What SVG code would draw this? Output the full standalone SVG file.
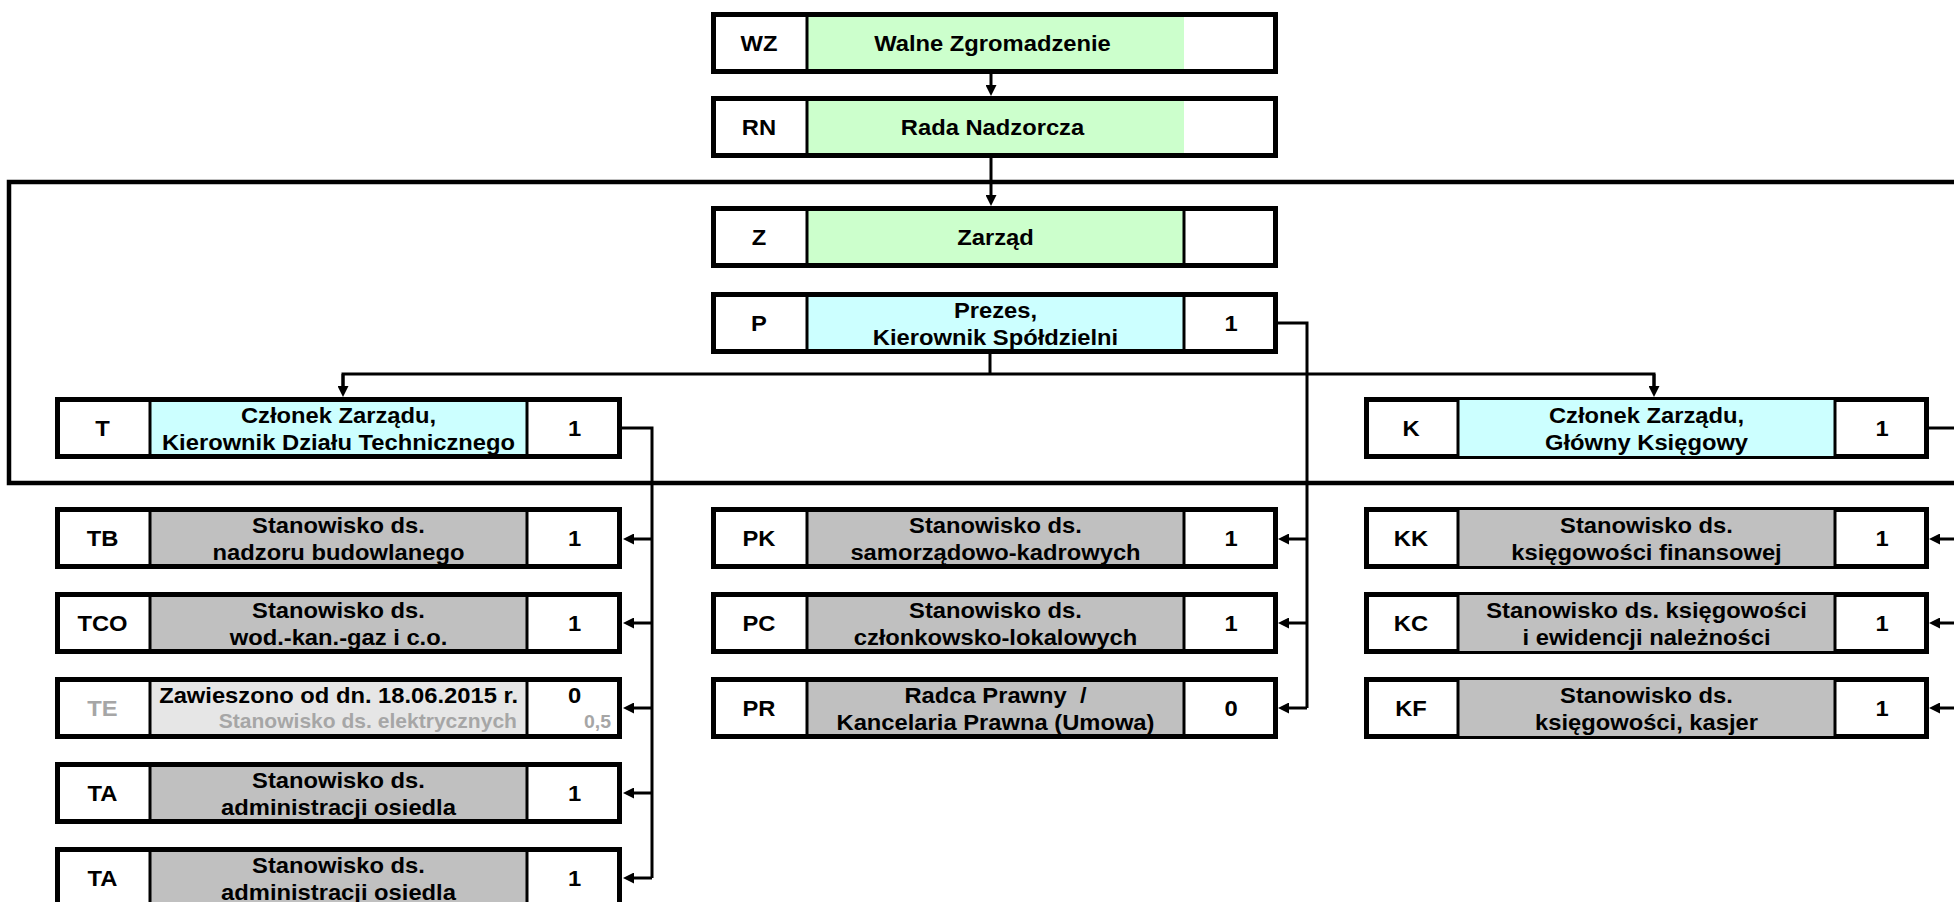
<svg xmlns="http://www.w3.org/2000/svg" width="1954" height="902" viewBox="0 0 1954 902">
<style>
.bx{fill:none;stroke:#000;stroke-width:5}
.dv{stroke:#000;stroke-width:3}
.gr{fill:#ccffcc}
.cy{fill:#ccffff}
.gy{fill:#c0c0c0}
.lg{fill:#e6e6e6}
.cn{fill:none;stroke:#000;stroke-width:3}
text{font-family:"Liberation Sans",Arial,sans-serif;font-weight:bold;font-size:22px;text-anchor:middle;fill:#000}
.fd{fill:#a6a6a6}
.sm{font-size:19.5px}
.xs{font-size:18px}
.ra{text-anchor:end}
</style>
<defs>
<marker id="ah" viewBox="0 0 11 11" refX="6" refY="5.5" markerWidth="11" markerHeight="11" markerUnits="userSpaceOnUse" orient="auto"><path d="M0,0 L11,5.5 L0,11 z" fill="#000"/></marker>
</defs>
<rect width="1954" height="902" fill="#fff"/>

<g id="frame"><rect x="9" y="182" width="2100" height="301" fill="none" stroke="#000" stroke-width="4.5"/></g>

<g id="connectors">
<path class="cn" d="M991,74 V91" marker-end="url(#ah)"/>
<path class="cn" d="M991,158 V201" marker-end="url(#ah)"/>
<path class="cn" d="M990,354 V374"/>
<path class="cn" d="M343,392 V374 H1654 V392"/>
<path class="cn" d="M343,374 V392" marker-end="url(#ah)"/>
<path class="cn" d="M1654,374 V392" marker-end="url(#ah)"/>
<path class="cn" d="M622,428 H652 V878"/>
<path class="cn" d="M652,539 H628" marker-end="url(#ah)"/>
<path class="cn" d="M652,623 H628" marker-end="url(#ah)"/>
<path class="cn" d="M652,708 H628" marker-end="url(#ah)"/>
<path class="cn" d="M652,793 H628" marker-end="url(#ah)"/>
<path class="cn" d="M652,878 H628" marker-end="url(#ah)"/>
<path class="cn" d="M1278,323 H1307 V708"/>
<path class="cn" d="M1307,539 H1283" marker-end="url(#ah)"/>
<path class="cn" d="M1307,623 H1283" marker-end="url(#ah)"/>
<path class="cn" d="M1307,708 H1283" marker-end="url(#ah)"/>
<path class="cn" d="M1929,428 H1960"/>
<path class="cn" d="M1960,539 H1934" marker-end="url(#ah)"/>
<path class="cn" d="M1960,623 H1934" marker-end="url(#ah)"/>
<path class="cn" d="M1960,708 H1934" marker-end="url(#ah)"/>
</g>

<g id="WZ">
<rect class="gr" x="807" y="12" width="377" height="62"/>
<line class="dv" x1="807" y1="12" x2="807" y2="74"/>
<rect class="bx" x="713.5" y="14.5" width="562" height="57"/>
<g transform="scale(1.08 1)"><text x="702.78" y="51">WZ</text><text x="918.98" y="51">Walne Zgromadzenie</text></g>
</g>

<g id="RN">
<rect class="gr" x="807" y="96" width="377" height="62"/>
<line class="dv" x1="807" y1="96" x2="807" y2="158"/>
<rect class="bx" x="713.5" y="98.5" width="562" height="57"/>
<g transform="scale(1.08 1)"><text x="702.78" y="135">RN</text><text x="918.98" y="135">Rada Nadzorcza</text></g>
</g>

<g id="Z">
<rect class="gr" x="807" y="206" width="377" height="62"/>
<line class="dv" x1="807" y1="206" x2="807" y2="268"/>
<line class="dv" x1="1184" y1="206" x2="1184" y2="268"/>
<rect class="bx" x="713.5" y="208.5" width="562" height="57"/>
<g transform="scale(1.08 1)"><text x="702.78" y="245">Z</text><text x="921.76" y="245">Zarząd</text></g>
</g>

<g id="P">
<rect class="cy" x="807" y="292" width="377" height="62"/>
<line class="dv" x1="807" y1="292" x2="807" y2="354"/>
<line class="dv" x1="1184" y1="292" x2="1184" y2="354"/>
<rect class="bx" x="713.5" y="294.5" width="562" height="57"/>
<g transform="scale(1.08 1)"><text x="702.78" y="331">P</text><text x="921.76" y="318">Prezes,</text><text x="921.76" y="345">Kierownik Spółdzielni</text><text x="1139.81" y="331">1</text></g>
</g>

<g id="T">
<rect class="cy" x="150" y="397" width="377" height="62"/>
<line class="dv" x1="150" y1="397" x2="150" y2="459"/>
<line class="dv" x1="527" y1="397" x2="527" y2="459"/>
<rect class="bx" x="57.5" y="399.5" width="562" height="57"/>
<g transform="scale(1.08 1)"><text x="94.91" y="436">T</text><text x="313.43" y="423">Członek Zarządu,</text><text x="313.43" y="450">Kierownik Działu Technicznego</text><text x="531.94" y="436">1</text></g>
</g>

<g id="K">
<rect class="bx" x="1366.5" y="399.5" width="560" height="57"/>
<rect class="cy" x="1458" y="400" width="377" height="56"/>
<line class="dv" x1="1458" y1="397" x2="1458" y2="459"/>
<line class="dv" x1="1835" y1="397" x2="1835" y2="459"/>
<g transform="scale(1.08 1)"><text x="1306.48" y="436">K</text><text x="1524.54" y="423">Członek Zarządu,</text><text x="1524.54" y="450">Główny Księgowy</text><text x="1742.59" y="436">1</text></g>
</g>

<g id="TB">
<rect class="gy" x="150" y="507" width="377" height="62"/>
<line class="dv" x1="150" y1="507" x2="150" y2="569"/>
<line class="dv" x1="527" y1="507" x2="527" y2="569"/>
<rect class="bx" x="57.5" y="509.5" width="562" height="57"/>
<g transform="scale(1.08 1)"><text x="94.91" y="546">TB</text><text x="313.43" y="533">Stanowisko ds.</text><text x="313.43" y="560">nadzoru budowlanego</text><text x="531.94" y="546">1</text></g>
</g>

<g id="TCO">
<rect class="gy" x="150" y="592" width="377" height="62"/>
<line class="dv" x1="150" y1="592" x2="150" y2="654"/>
<line class="dv" x1="527" y1="592" x2="527" y2="654"/>
<rect class="bx" x="57.5" y="594.5" width="562" height="57"/>
<g transform="scale(1.08 1)"><text x="94.91" y="631">TCO</text><text x="313.43" y="618">Stanowisko ds.</text><text x="313.43" y="645">wod.-kan.-gaz i c.o.</text><text x="531.94" y="631">1</text></g>
</g>

<g id="TE">
<rect class="lg" x="150" y="677" width="377" height="62"/>
<line class="dv" x1="150" y1="677" x2="150" y2="739"/>
<line class="dv" x1="527" y1="677" x2="527" y2="739"/>
<rect class="bx" x="57.5" y="679.5" width="562" height="57"/>
<g transform="scale(1.08 1)"><text class="fd" x="94.91" y="716">TE</text><text class="ra" x="479.63" y="703">Zawieszono od dn. 18.06.2015 r.</text><text class="ra fd sm" x="478.7" y="728">Stanowisko ds. elektrycznych</text><text x="531.94" y="703">0</text><text class="ra fd xs" x="565.74" y="728">0,5</text></g>
</g>

<g id="TA1">
<rect class="gy" x="150" y="762" width="377" height="62"/>
<line class="dv" x1="150" y1="762" x2="150" y2="824"/>
<line class="dv" x1="527" y1="762" x2="527" y2="824"/>
<rect class="bx" x="57.5" y="764.5" width="562" height="57"/>
<g transform="scale(1.08 1)"><text x="94.91" y="801">TA</text><text x="313.43" y="788">Stanowisko ds.</text><text x="313.43" y="815">administracji osiedla</text><text x="531.94" y="801">1</text></g>
</g>

<g id="TA2">
<rect class="gy" x="150" y="847" width="377" height="62"/>
<line class="dv" x1="150" y1="847" x2="150" y2="909"/>
<line class="dv" x1="527" y1="847" x2="527" y2="909"/>
<rect class="bx" x="57.5" y="849.5" width="562" height="57"/>
<g transform="scale(1.08 1)"><text x="94.91" y="886">TA</text><text x="313.43" y="873">Stanowisko ds.</text><text x="313.43" y="900">administracji osiedla</text><text x="531.94" y="886">1</text></g>
</g>

<g id="PK">
<rect class="gy" x="807" y="507" width="377" height="62"/>
<line class="dv" x1="807" y1="507" x2="807" y2="569"/>
<line class="dv" x1="1184" y1="507" x2="1184" y2="569"/>
<rect class="bx" x="713.5" y="509.5" width="562" height="57"/>
<g transform="scale(1.08 1)"><text x="702.78" y="546">PK</text><text x="921.76" y="533">Stanowisko ds.</text><text x="921.76" y="560">samorządowo-kadrowych</text><text x="1139.81" y="546">1</text></g>
</g>

<g id="PC">
<rect class="gy" x="807" y="592" width="377" height="62"/>
<line class="dv" x1="807" y1="592" x2="807" y2="654"/>
<line class="dv" x1="1184" y1="592" x2="1184" y2="654"/>
<rect class="bx" x="713.5" y="594.5" width="562" height="57"/>
<g transform="scale(1.08 1)"><text x="702.78" y="631">PC</text><text x="921.76" y="618">Stanowisko ds.</text><text x="921.76" y="645">członkowsko-lokalowych</text><text x="1139.81" y="631">1</text></g>
</g>

<g id="PR">
<rect class="gy" x="807" y="677" width="377" height="62"/>
<line class="dv" x1="807" y1="677" x2="807" y2="739"/>
<line class="dv" x1="1184" y1="677" x2="1184" y2="739"/>
<rect class="bx" x="713.5" y="679.5" width="562" height="57"/>
<g transform="scale(1.08 1)"><text x="702.78" y="716">PR</text><text x="921.76" y="703" xml:space="preserve">Radca Prawny  /</text><text x="921.76" y="730">Kancelaria Prawna (Umowa)</text><text x="1139.81" y="716">0</text></g>
</g>

<g id="KK">
<rect class="bx" x="1366.5" y="509.5" width="560" height="57"/>
<rect class="gy" x="1458" y="510" width="377" height="56"/>
<line class="dv" x1="1458" y1="507" x2="1458" y2="569"/>
<line class="dv" x1="1835" y1="507" x2="1835" y2="569"/>
<g transform="scale(1.08 1)"><text x="1306.48" y="546">KK</text><text x="1524.54" y="533">Stanowisko ds.</text><text x="1524.54" y="560">księgowości finansowej</text><text x="1742.59" y="546">1</text></g>
</g>

<g id="KC">
<rect class="bx" x="1366.5" y="594.5" width="560" height="57"/>
<rect class="gy" x="1458" y="595" width="377" height="56"/>
<line class="dv" x1="1458" y1="592" x2="1458" y2="654"/>
<line class="dv" x1="1835" y1="592" x2="1835" y2="654"/>
<g transform="scale(1.08 1)"><text x="1306.48" y="631">KC</text><text x="1524.54" y="618">Stanowisko ds. księgowości</text><text x="1524.54" y="645">i ewidencji należności</text><text x="1742.59" y="631">1</text></g>
</g>

<g id="KF">
<rect class="bx" x="1366.5" y="679.5" width="560" height="57"/>
<rect class="gy" x="1458" y="680" width="377" height="56"/>
<line class="dv" x1="1458" y1="677" x2="1458" y2="739"/>
<line class="dv" x1="1835" y1="677" x2="1835" y2="739"/>
<g transform="scale(1.08 1)"><text x="1306.48" y="716">KF</text><text x="1524.54" y="703">Stanowisko ds.</text><text x="1524.54" y="730">księgowości, kasjer</text><text x="1742.59" y="716">1</text></g>
</g>
</svg>
